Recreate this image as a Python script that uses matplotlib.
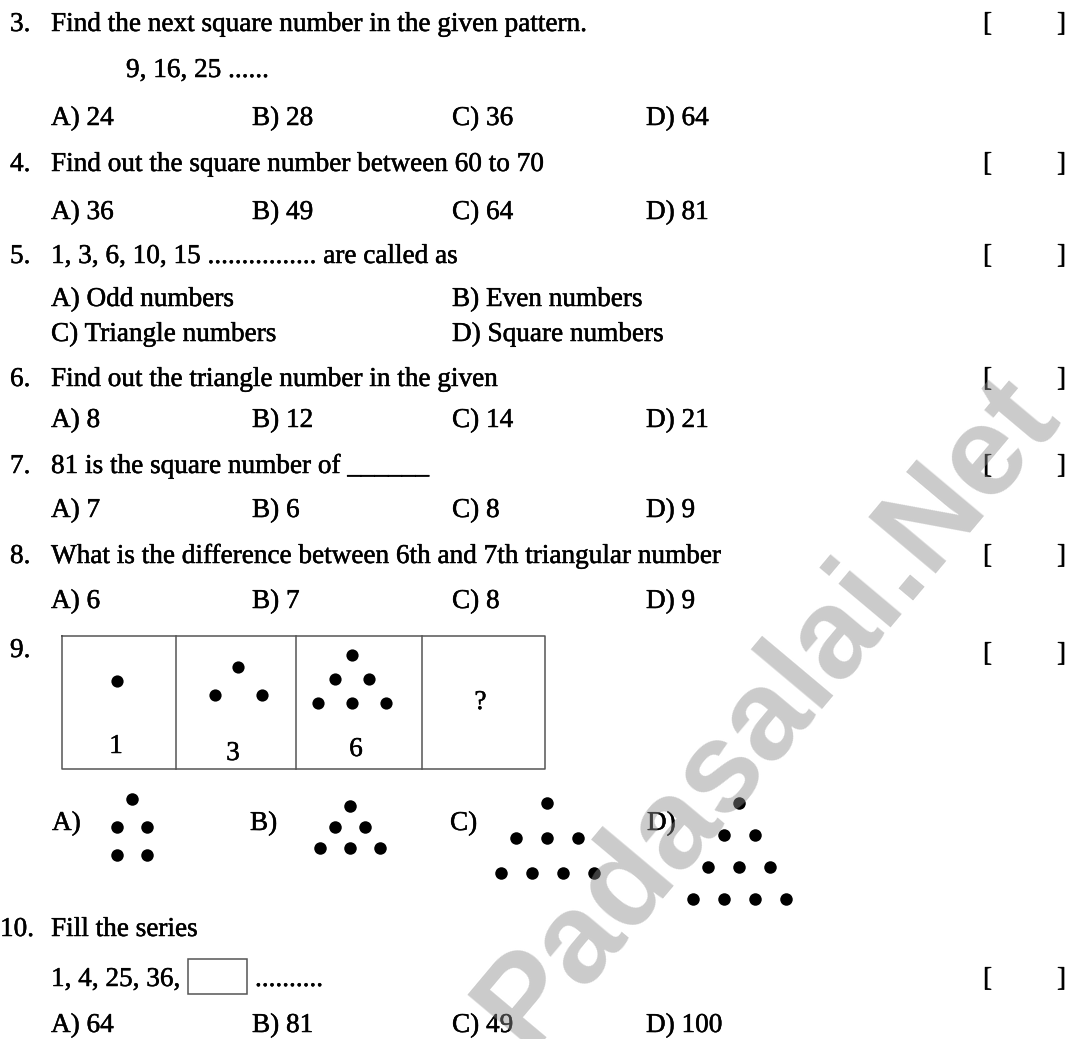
import matplotlib.pyplot as plt
import matplotlib.patheffects as pe

# -------------------------------
# Data: questions and options
# -------------------------------
q_nums = ["3.", "4.", "5.", "6.", "7.", "8.", "9.", "10."]
q_texts = [
    "Find the next square number in the given pattern.",
    "Find out the square number between 60 to 70",
    "1, 3, 6, 10, 15 ................ are called as",
    "Find out the triangle number in the given",
    "81 is the square number of ______",
    "What is the difference between 6th and 7th triangular number",
    "",
    "Fill the series",
]
q_rows = [22, 162, 254, 377, 464, 554, 648, 927]
bracket_rows = [22, 162, 254, 377, 464, 554, 652, 977]

opt_rows = [116, 210, 418, 508, 599, 1023]
opt_texts = [
    ["A) 24", "B) 28", "C) 36", "D) 64"],
    ["A) 36", "B) 49", "C) 64", "D) 81"],
    ["A) 8", "B) 12", "C) 14", "D) 21"],
    ["A) 7", "B) 6", "C) 8", "D) 9"],
    ["A) 6", "B) 7", "C) 8", "D) 9"],
    ["A) 64", "B) 81", "C) 49", "D) 100"],
]
opt_cols = [51, 252, 452, 646]

q5_rows = [297, 332]
q5_opts = [["A) Odd numbers", "B) Even numbers"],
           ["C) Triangle numbers", "D) Square numbers"]]

# dot pictures in question 9: dots per row
cell_rows = [[1], [1, 2], [1, 2, 3]]
cell_labels = ["1", "3", "6", "?"]
choice_labels = ["A)", "B)", "C)", "D)"]
choice_rows = [[1, 2, 2], [1, 2, 3], [1, 3, 4], [1, 2, 3, 4]]

# -------------------------------
# Figure
# -------------------------------
fig = plt.figure(figsize=(10.73, 10.39), dpi=100)
ax = fig.add_axes([0, 0, 1, 1])
ax.set_xlim(0, 1073)
ax.set_ylim(1039, 0)
ax.axis("off")

FONT = "Liberation Serif"
FS = 19.6
INK = "black"
BOLDER = [pe.withStroke(linewidth=0.35, foreground=INK)]


def txt(x, y, s, size=FS, ha="left"):
    ax.text(x, y + 9, s, fontsize=size, family=FONT, color=INK,
            ha=ha, va="baseline", path_effects=BOLDER)


def dots(cx, top, rows, dx, dy, ms=8.8):
    for i, n in enumerate(rows):
        xs = [cx + (k - (n - 1) / 2) * dx for k in range(n)]
        ax.plot(xs, [top + i * dy] * n, "o", color="black", ms=ms, mec="none")


# question lines
for num, t, y in zip(q_nums, q_texts, q_rows):
    txt(10 if len(num) == 2 else 0, y, num)
    if t:
        txt(51, y, t)

for y in bracket_rows:
    txt(983, y, "[")
    txt(1057, y, "]")

# series lines
txt(126, 68, "9, 16, 25 ......")
txt(51, 977, "1, 4, 25, 36,")
ax.add_patch(plt.Rectangle((188, 959), 59, 35, fill=False, ec="#555555", lw=1.1))
txt(255, 977, "..........")

# options
for y, row in zip(opt_rows, opt_texts):
    for x, s in zip(opt_cols, row):
        txt(x, y, s)
for y, row in zip(q5_rows, q5_opts):
    txt(51, y, row[0])
    txt(452, y, row[1])

# question 9 table
box_x = [62, 176, 296, 422, 545]
box_top, box_bot = 636, 769
ax.plot([box_x[0], box_x[-1], box_x[-1], box_x[0], box_x[0]],
        [box_top, box_top, box_bot, box_bot, box_top], color="#555555", lw=1.1)
for x in box_x[1:-1]:
    ax.plot([x, x], [box_top, box_bot], color="#555555", lw=1.1)

dots(117, 681, cell_rows[0], 40, 25)
dots(238, 667, cell_rows[1], 47, 28)
dots(352, 655, cell_rows[2], 34, 24)
label_y = [744, 751, 747, 700]
for i, s in enumerate(cell_labels):
    txt((box_x[i] + box_x[i + 1]) / 2 - 3, label_y[i], s, ha="center")

# question 9 choices
choice_x = [52, 250, 450, 647]
pic_cx = [132, 350, 547, 739]
pic_top = [799, 806, 803, 803]
pic_dx = [30, 30, 31, 31]
pic_dy = [28, 21, 35, 32]
for i in range(4):
    txt(choice_x[i], 821, choice_labels[i])
    dots(pic_cx[i], pic_top[i], choice_rows[i], pic_dx[i], pic_dy[i], ms=9)

# watermark
ax.text(768, 712, "Padasalai.Net", fontsize=92, family="Liberation Sans",
        weight="bold", color="#8c8c8c", alpha=0.45, rotation=50,
        ha="center", va="center", rotation_mode="anchor", zorder=10)

fig.savefig("out.png", dpi=100, facecolor="white")
